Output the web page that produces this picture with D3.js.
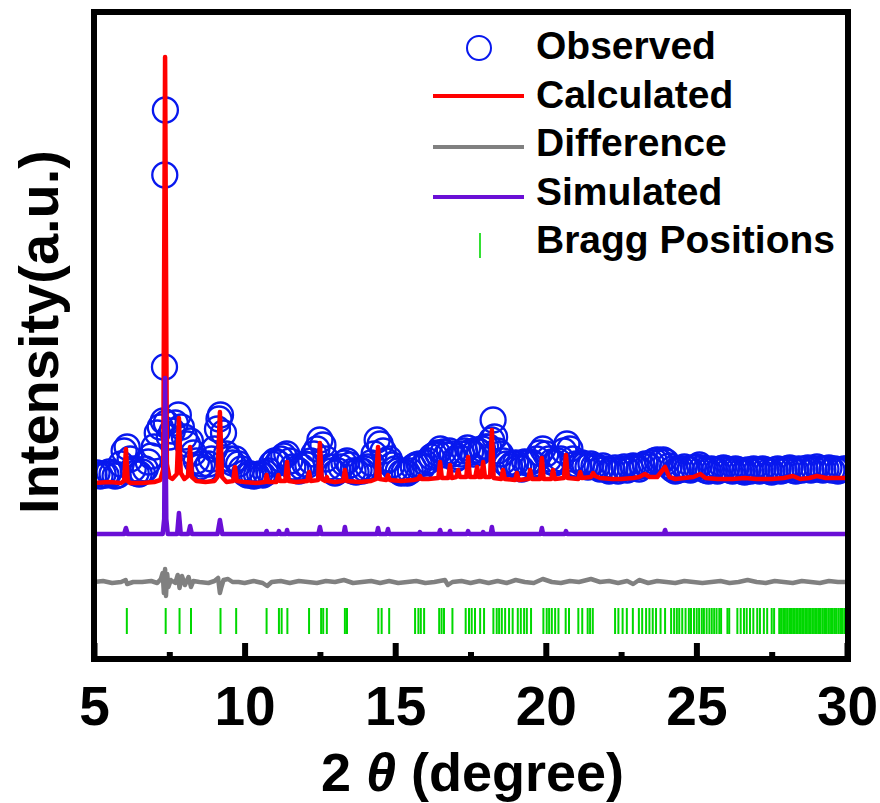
<!DOCTYPE html>
<html>
<head>
<meta charset="utf-8">
<script src="https://cdn.jsdelivr.net/npm/d3@7"></script>
<style>
  html, body { margin: 0; padding: 0; background: #fff; }
  svg { display: block; }
</style>
</head>
<body>
<div id="chart"></div>
<script>
// 2theta sampling of the observed pattern (0.1 deg step, 5 -> 30)
const obsStart = 5.0
const obsStep = 0.1
// observed intensity (a.u.), one row per degree
const observed = [
  184,186,183,185,184,187,185,183,184,195,
  208,212,200,190,186,185,187,190,197,203,
  212,226,232,238,236,222,228,236,244,232,
  222,215,218,206,198,192,195,190,195,200,
  210,230,244,226,205,200,196,200,195,190,
  186,184,185,183,184,185,184,186,188,195,
  198,196,200,203,205,198,192,190,188,192,
  195,194,198,205,210,219,214,200,192,188,
  186,188,192,196,198,194,188,187,189,188,
  190,192,196,205,219,215,208,198,200,194,
  190,188,186,187,186,188,192,194,195,192,
  196,198,202,204,206,210,207,204,208,205,
  200,202,205,208,211,207,205,209,207,210,
  212,212,219,222,208,205,198,195,192,195,
  196,192,190,197,196,197,195,200,206,210,
  205,200,197,196,198,200,208,215,210,200,
  195,193,196,194,192,195,193,192,190,193,
  190,188,189,191,188,190,192,189,191,193,
  192,190,193,195,194,196,198,199,197,199,
  197,193,190,188,189,190,192,190,189,191,
  192,194,191,189,188,190,189,188,190,191,
  190,189,188,190,189,188,187,189,188,190,
  189,188,190,189,188,187,189,190,188,189,
  190,191,189,188,190,189,190,191,189,190,
  192,190,189,190,191,189,190,188,189,190,
  190
]
// extra observed points on the sharp peaks [2theta, intensity]
const observedPeaks = [
  [7.34, 292], [7.35, 484], [7.37, 549], [9.15, 240], [18.25, 239]
]

// calculated profile [2theta, intensity]
const calculated = [
  [5.0,176],[5.5,177],[5.9,176],[6.0,178],[6.06,210],[6.12,178],[6.2,176],[6.6,176],
  [7.0,177],[7.2,179],[7.3,190],[7.36,602],[7.42,195],[7.5,182],[7.6,180],[7.75,185],
  [7.82,241],[7.88,186],[8.0,180],[8.12,183],[8.19,212],[8.25,182],[8.4,178],[8.7,177],
  [9.0,178],[9.1,182],[9.18,247],[9.25,182],[9.4,177],[9.62,178],[9.68,192],[9.74,178],
  [10.0,177],[10.4,176],[10.68,177],[10.73,184],[10.78,177],[11.05,177],[11.12,184],
  [11.18,178],[11.35,178],[11.41,197],[11.47,178],[11.7,177],[12.08,178],[12.14,187],
  [12.2,178],[12.44,179],[12.5,216],[12.56,180],[12.68,178],[12.73,182],[12.78,178],
  [13.0,177],[13.27,178],[13.33,189],[13.39,178],[13.8,177],[14.2,178],[14.37,180],
  [14.43,212],[14.49,180],[14.7,179],[14.76,184],[14.82,179],[15.2,178],[15.6,179],
  [15.76,180],[15.82,183],[15.88,180],[16.1,180],[16.43,181],[16.49,197],[16.55,181],
  [16.76,181],[16.82,194],[16.88,181],[17.03,182],[17.09,189],[17.15,182],[17.36,182],
  [17.42,202],[17.48,182],[17.66,182],[17.72,192],[17.78,182],[17.86,182],[17.92,197],
  [17.98,182],[18.15,182],[18.21,229],[18.27,181],[18.52,180],[18.58,189],[18.64,180],
  [18.98,179],[19.04,186],[19.1,179],[19.42,180],[19.48,189],[19.54,180],[19.81,180],
  [19.87,201],[19.93,180],[20.18,180],[20.24,189],[20.3,180],[20.6,181],[20.67,204],
  [20.73,181],[21.08,180],[21.14,187],[21.2,181],[21.5,182],[21.57,186],[21.64,183],
  [21.8,181],[22.2,180],[22.5,180],[22.9,181],[23.1,182],[23.29,185],[23.45,182],
  [23.7,182],[23.96,192],[24.1,182],[24.3,180],[24.6,181],[24.9,182],[25.13,185],
  [25.3,181],[25.7,180],[26.2,180],[26.6,181],[27.0,180],[27.5,180],[27.9,181],
  [28.2,183],[28.45,180],[28.75,181],[29.0,183],[29.3,181],[29.7,181],[30.0,181]
]

// simulated pattern (offset) [2theta, intensity]
const simulated = [
  [5.0,125],[6.0,125],[6.06,131],[6.12,125],[7.28,125],[7.33,140],[7.36,281],[7.40,140],
  [7.45,125],[7.76,125],[7.82,146],[7.88,125],[8.13,125],[8.19,133],[8.25,125],[9.1,125],
  [9.18,139],[9.26,125],[10.7,125],[10.73,128],[10.76,125],[11.1,125],[11.14,128],
  [11.18,125],[11.38,125],[11.41,129],[11.44,125],[12.45,125],[12.5,132],[12.55,125],
  [13.29,125],[13.33,132],[13.37,125],[14.39,125],[14.43,131],[14.47,125],[14.72,125],
  [14.76,130],[14.8,125],[15.79,125],[15.82,127],[15.85,125],[16.45,125],[16.49,129],
  [16.53,125],[16.79,125],[16.82,128],[16.85,125],[17.38,125],[17.42,128],[17.46,125],
  [17.89,125],[17.92,127],[17.95,125],[18.17,125],[18.21,132],[18.25,125],[19.83,125],
  [19.87,131],[19.91,125],[20.63,125],[20.67,128],[20.71,125],[23.92,125],[23.96,129],
  [24.0,125],[30.0,125]
]

// difference curve (offset) [2theta, intensity]
const difference = [
  [5.0,77],[5.3,78],[5.6,76],[5.9,77],[6.05,79],[6.1,75],[6.3,77],[6.6,77],[6.9,78],
  [7.1,76],[7.22,80],[7.28,86],[7.32,66],[7.36,90],[7.39,63],[7.43,85],[7.47,72],
  [7.55,79],[7.7,76],[7.78,84],[7.84,71],[7.92,83],[8.02,74],[8.14,82],[8.22,72],
  [8.3,78],[8.5,77],[8.8,76],[9.0,78],[9.12,81],[9.18,66],[9.23,72],[9.3,79],[9.45,80],
  [9.6,77],[9.8,77],[10.0,76],[10.3,78],[10.6,76],[10.75,73],[10.9,77],[11.2,78],
  [11.5,76],[11.8,78],[12.1,77],[12.4,76],[12.7,78],[13.0,77],[13.3,79],[13.6,76],
  [13.9,77],[14.2,78],[14.5,76],[14.8,78],[15.1,76],[15.4,77],[15.7,78],[16.0,76],
  [16.3,77],[16.65,79],[16.75,74],[16.9,77],[17.2,78],[17.5,76],[17.8,78],[18.1,76],
  [18.4,78],[18.7,76],[19.0,79],[19.3,77],[19.6,76],[19.9,80],[20.2,77],[20.5,76],
  [20.8,78],[21.1,77],[21.5,80],[21.8,77],[22.1,78],[22.4,76],[22.7,78],[22.9,75],
  [23.1,79],[23.4,76],[23.7,78],[24.0,77],[24.3,76],[24.6,78],[24.9,77],[25.2,76],
  [25.5,77],[25.8,78],[26.1,76],[26.4,77],[26.7,79],[27.0,77],[27.3,76],[27.6,78],
  [27.9,77],[28.2,76],[28.5,78],[28.8,77],[29.1,76],[29.4,78],[29.7,77],[30.0,77]
]

// Bragg reflection positions (2theta)
const bragg = [
  6.09,7.38,7.84,8.22,9.20,9.72,10.73,11.14,11.23,11.42,12.14,12.54,12.61,12.73,
  13.33,13.40,14.44,14.55,14.80,15.66,15.77,15.85,15.96,16.46,16.54,16.62,16.90,
  17.34,17.45,17.54,17.65,17.82,17.95,18.26,18.37,18.45,18.54,18.65,18.78,18.90,
  19.07,19.17,19.28,19.37,19.51,19.92,20.03,20.11,20.20,20.31,20.42,20.66,20.77,
  21.08,21.21,21.39,21.47,21.56,22.30,22.41,22.55,22.69,22.89,23.09,23.20,23.33,
  23.44,23.55,23.66,23.81,23.96,24.16,24.26,24.35,24.43,24.53,24.64,24.75,24.82,
  24.92,25.01,25.09,25.18,25.25,25.34,25.43,25.51,25.59,25.67,25.76,25.82,26.03,
  26.09,26.36,26.47,26.58,26.67,26.78,26.89,27.02,27.11,27.24,27.35,27.50,27.58,
  27.75,27.81,27.88,27.94,28.01,28.08,28.14,28.21,28.27,28.34,28.41,28.47,28.54,
  28.61,28.67,28.74,28.80,28.87,28.94,29.00,29.07,29.13,29.20,29.27,29.33,29.40,
  29.47,29.53,29.60,29.66,29.73,29.80,29.86,29.93
]

const majorTicks = [5, 10, 15, 20, 25, 30]
const minorTicks = [7.5, 12.5, 17.5, 22.5, 27.5]
const legendItems = ["Observed", "Calculated", "Difference", "Simulated", "Bragg Positions"]

const width = 880, height = 803
const plotLeft = 94, plotRight = 847, plotTop = 13, plotBottom = 659
const font = "'Liberation Sans', Arial, Helvetica, sans-serif"

const colors = {
  obs: "#0818ee",
  calc: "#ff0000",
  diff: "#808080",
  sim: "#6a0fd6",
  bragg: "#00d800"
}

const svg = d3.select("#chart").append("svg")
  .attr("width", width)
  .attr("height", height)
  .style("font-family", font)

const x = d3.scaleLinear().domain([5, 30]).range([plotLeft, plotRight])
const y = d3.scaleLinear().domain([0, 646]).range([plotBottom, plotTop])

svg.append("defs").append("clipPath")
  .attr("id", "plot-clip")
  .append("rect")
  .attr("x", plotLeft).attr("y", plotTop)
  .attr("width", plotRight - plotLeft).attr("height", plotBottom - plotTop)

const plot = svg.append("g").attr("clip-path", "url(#plot-clip)")

// observed circles
const obsPoints = observed.map((v, i) => [obsStart + i * obsStep, v]).concat(observedPeaks)

plot.append("g")
  .selectAll("circle")
  .data(obsPoints)
  .join("circle")
  .attr("cx", d => x(d[0]))
  .attr("cy", d => y(d[1]))
  .attr("r", 12.5)
  .attr("fill", "none")
  .attr("stroke", colors.obs)
  .attr("stroke-width", 2.3)

const line = d3.line().x(d => x(d[0])).y(d => y(d[1]))

plot.append("path")
  .datum(calculated)
  .attr("d", line)
  .attr("fill", "none")
  .attr("stroke", colors.calc)
  .attr("stroke-width", 4.5)
  .attr("stroke-linejoin", "round")

plot.append("path")
  .datum(simulated)
  .attr("d", line)
  .attr("fill", "none")
  .attr("stroke", colors.sim)
  .attr("stroke-width", 4.5)
  .attr("stroke-linejoin", "round")

plot.append("path")
  .datum(difference)
  .attr("d", line)
  .attr("fill", "none")
  .attr("stroke", colors.diff)
  .attr("stroke-width", 4.5)
  .attr("stroke-linejoin", "round")

// Bragg ticks (between intensity 25 and 51)
plot.append("g")
  .selectAll("line")
  .data(bragg)
  .join("line")
  .attr("x1", d => x(d)).attr("x2", d => x(d))
  .attr("y1", y(51)).attr("y2", y(25))
  .attr("stroke", colors.bragg)
  .attr("stroke-width", 2)

// axes: inward ticks
const minorAxis = d3.axisBottom(x).tickValues(minorTicks).tickSize(-7).tickFormat("")
const majorAxis = d3.axisBottom(x).tickValues(majorTicks).tickSize(-16).tickPadding(27).tickFormat(d3.format("d"))

const gMinor = svg.append("g").attr("transform", `translate(0,${plotBottom})`).call(minorAxis)
const gMajor = svg.append("g").attr("transform", `translate(0,${plotBottom})`).call(majorAxis)

;[gMinor, gMajor].forEach(g => {
  g.select(".domain").remove()
  g.selectAll(".tick line").attr("stroke", "#000").attr("stroke-width", 6)
})
gMajor.selectAll(".tick text")
  .attr("fill", "#000")
  .attr("font-family", font)
  .attr("font-size", 55)
  .attr("font-weight", "bold")

// frame
svg.append("rect")
  .attr("x", plotLeft).attr("y", plotTop - 1)
  .attr("width", plotRight - plotLeft + 1).attr("height", plotBottom - plotTop + 1)
  .attr("fill", "none")
  .attr("stroke", "#000")
  .attr("stroke-width", 6)

// axis titles
const xt = svg.append("text")
  .attr("x", (plotLeft + plotRight) / 2 + 2)
  .attr("y", 791)
  .attr("text-anchor", "middle")
  .attr("font-size", 54)
  .attr("font-weight", "bold")
xt.append("tspan").text("2 ")
xt.append("tspan").attr("font-style", "italic").text("θ")
xt.append("tspan").text(" (degree)")

svg.append("text")
  .attr("transform", `translate(58,${(plotTop + plotBottom) / 2 - 4}) rotate(-90)`)
  .attr("text-anchor", "middle")
  .attr("font-size", 56)
  .attr("font-weight", "bold")
  .text("Intensity(a.u.)")

// legend
const legend = svg.append("g")
const rowY = [48, 96, 147, 197, 245]
const textY = [59, 108, 156, 205, 253]

legend.selectAll("text")
  .data(legendItems)
  .join("text")
  .attr("x", 536)
  .attr("y", (d, i) => textY[i])
  .attr("font-size", 39)
  .attr("font-weight", "bold")
  .text(d => d)

legend.append("circle")
  .attr("cx", 479).attr("cy", rowY[0]).attr("r", 12)
  .attr("fill", "none").attr("stroke", colors.obs).attr("stroke-width", 2)

;[colors.calc, colors.diff, colors.sim].forEach((c, i) => {
  legend.append("line")
    .attr("x1", 433).attr("x2", 524)
    .attr("y1", rowY[i + 1]).attr("y2", rowY[i + 1])
    .attr("stroke", c).attr("stroke-width", 4)
})

legend.append("line")
  .attr("x1", 480).attr("x2", 480)
  .attr("y1", 233).attr("y2", 258)
  .attr("stroke", colors.bragg).attr("stroke-width", 1.6)
</script>
</body>
</html>
